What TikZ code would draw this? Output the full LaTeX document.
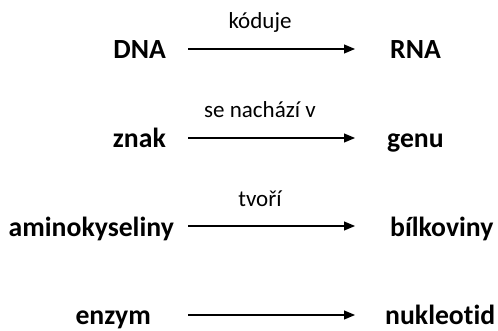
\documentclass[tikz,border=0pt]{standalone}
\usepackage{fontspec}
\setmainfont{Carlito}[Ligatures={NoCommon}]
\usetikzlibrary{arrows.meta}

\tikzset{
  term/.style={font=\fontsize{27.7}{30}\selectfont\bfseries, inner sep=0pt},
  verb/.style={font=\fontsize{23}{26}\selectfont, inner sep=0pt},
  link/.style={line width=1.1pt, -{Triangle[length=11pt,width=9pt]}}
}

\begin{document}
\begin{tikzpicture}[x=1pt,y=1pt]
\useasboundingbox (0,0) rectangle (498,331);

% DNA -> RNA
\node[term, anchor=base east] (dna) at (166,272) {DNA};
\node[term, anchor=base west] (rna) at (390,272) {RNA};
\coordinate (s1) at (188,282);
\coordinate (e1) at (355,282);
\draw[link] (s1) -- (e1);
\node[verb, anchor=base] (koduje) at (260,302) {kóduje};

% znak -> genu
\node[term, anchor=base east] (znak) at (166,183) {znak};
\node[term, anchor=base west] (genu) at (387,183) {genu};
\coordinate (s2) at (188,193);
\coordinate (e2) at (355,193);
\draw[link] (s2) -- (e2);
\node[verb, anchor=base] (nachazi) at (260,213) {se nachází v};

% aminokyseliny -> bilkoviny
\node[term, anchor=base east] (amino) at (174,94) {aminokyseliny};
\node[term, anchor=base west] (bilk) at (390,94) {bílkoviny};
\coordinate (s3) at (188,105);
\coordinate (e3) at (355,105);
\draw[link] (s3) -- (e3);
\node[verb, anchor=base] (tvori) at (260,124) {tvoří};

% enzym -> nukleotid (no label)
\node[term, anchor=base east] (enzym) at (151,6) {enzym};
\node[term, anchor=base west] (nukl) at (385,6) {nukleotid};
\coordinate (s4) at (188,16);
\coordinate (e4) at (355,16);
\draw[link] (s4) -- (e4);
\end{tikzpicture}
\end{document}
